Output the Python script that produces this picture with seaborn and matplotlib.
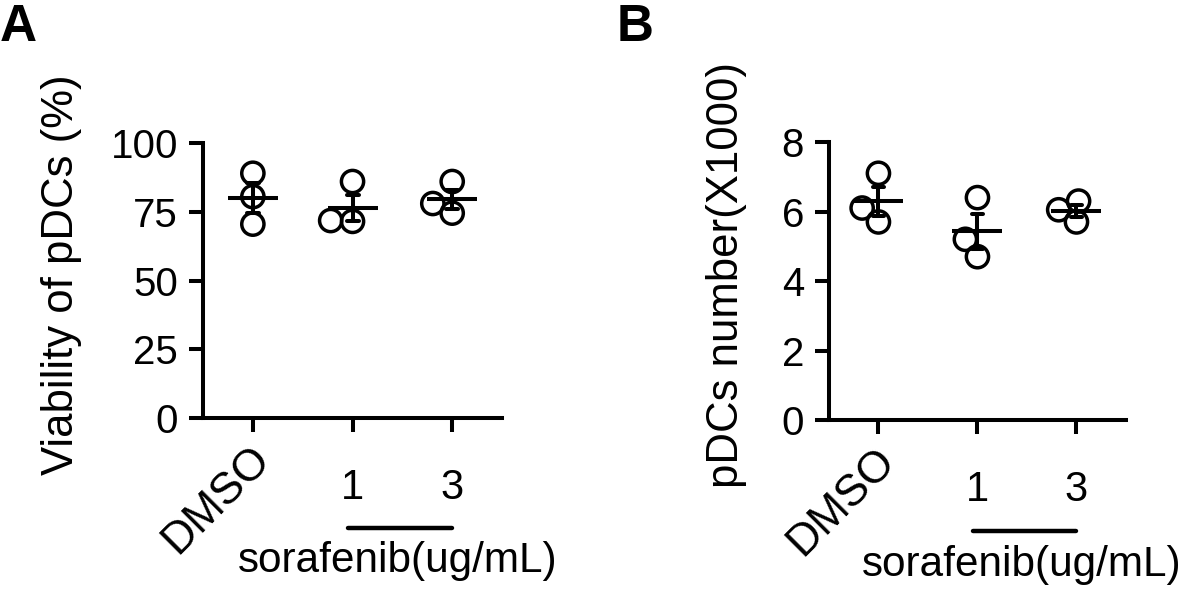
import pandas as pd
import matplotlib.pyplot as plt
import matplotlib.transforms as mtransforms
import seaborn as sns

# values
groups = ["DMSO", "1", "3"]
viability_dmso = [89, 80.5, 70.5]
viability_s1 = [86, 71.5, 71.8]
viability_s3 = [86, 78, 74.5]

number_dmso = [7.1, 6.1, 5.7]
number_s1 = [6.4, 5.2, 4.7]
number_s3 = [6.3, 6.05, 5.7]

sns.set_theme(style="ticks")
plt.rcParams["font.family"] = ["Liberation Sans", "DejaVu Sans"]
plt.rcParams.update({"text.color": "black", "axes.labelcolor": "black",
                     "xtick.color": "black", "ytick.color": "black",
                     "axes.edgecolor": "black"})

LW = 2.9


def long_table(*cols):
    rows = []
    for g, vals in zip(groups, cols):
        for v in vals:
            rows.append({"group": g, "value": v})
    return pd.DataFrame(rows)


viab = long_table(viability_dmso, viability_s1, viability_s3)
num = long_table(number_dmso, number_s1, number_s3)

fig = plt.figure(figsize=(11.81, 5.89), dpi=100)
axA = fig.add_axes([0.1719, 0.2903, 0.2532, 0.4669])
axB = fig.add_axes([0.7019, 0.2869, 0.2515, 0.4720])

swarms = []


def draw(ax, df, ymax, yticks, ylabel, ylab_x):
    # swarm laid out with slightly smaller circles so they may touch (prism style)
    sns.swarmplot(data=df, x="group", y="value", order=groups, ax=ax,
                  size=12.5, color="white", linewidth=2.5, zorder=2)
    for c in ax.collections:
        c.set_facecolor("none")
        c.set_edgecolor("black")
        swarms.append(c)
    sns.pointplot(data=df, x="group", y="value", order=groups, ax=ax,
                  errorbar="se", capsize=0.12, linestyle="none",
                  marker="_", markersize=36, markeredgewidth=LW,
                  color="black", err_kws={"linewidth": LW}, zorder=3)
    ax.set_xlim(-0.5, 2.5)
    ax.set_ylim(0, ymax)
    ax.set_yticks(yticks)
    ax.set_yticklabels([str(t) for t in yticks])
    ax.set_xticks(range(len(groups)))
    ax.set_xticklabels(groups)
    sns.despine(ax=ax)
    for s in ["left", "bottom"]:
        ax.spines[s].set_linewidth(LW)
        ax.spines[s].set_color("black")
    ax.tick_params(axis="both", width=LW, length=10, color="black",
                   labelcolor="black")
    ax.tick_params(axis="y", pad=8, labelsize=29)
    ax.tick_params(axis="x", pad=26, labelsize=30)
    ax.set_xlabel("")
    ax.set_ylabel(ylabel, fontsize=31.5)
    ax.yaxis.set_label_coords(ylab_x, 0.52)

    labels = ax.get_xticklabels()
    lab0 = labels[0]
    lab0.set_fontsize(32)
    lab0.set_rotation(45)
    lab0.set_ha("right")
    lab0.set_va("top")
    lab0.set_rotation_mode("anchor")
    lab0.set_transform(lab0.get_transform() +
                       mtransforms.ScaledTranslation(-0.04, 0.30, fig.dpi_scale_trans))

    trans = mtransforms.blended_transform_factory(ax.transData, ax.transAxes)
    ax.plot([0.95, 2.0], [-0.40, -0.40], color="black", lw=3.2,
            transform=trans, clip_on=False)
    ax.text(1.45, -0.52, "sorafenib(ug/mL)", transform=trans, fontsize=30.4,
            ha="center", va="center")


draw(axA, viab, 100, [0, 25, 50, 75, 100], "Viability of pDCs (%)", -0.405)
draw(axB, num, 8, [0, 2, 4, 6, 8], "pDCs number(X1000)", -0.276)

# run the swarm layout once, then freeze it and draw the circles full size
fig.canvas.draw()
for c in swarms:
    if "draw" in c.__dict__:
        del c.draw
    c.set_sizes([16 ** 2])
    c.set_linewidth(2.5)

fig.text(0.0, 0.995, "A", fontsize=37, fontweight="bold", va="top", ha="left")
fig.text(0.522, 0.995, "B", fontsize=37, fontweight="bold", va="top", ha="left")

fig.savefig("out.png", dpi=100)
